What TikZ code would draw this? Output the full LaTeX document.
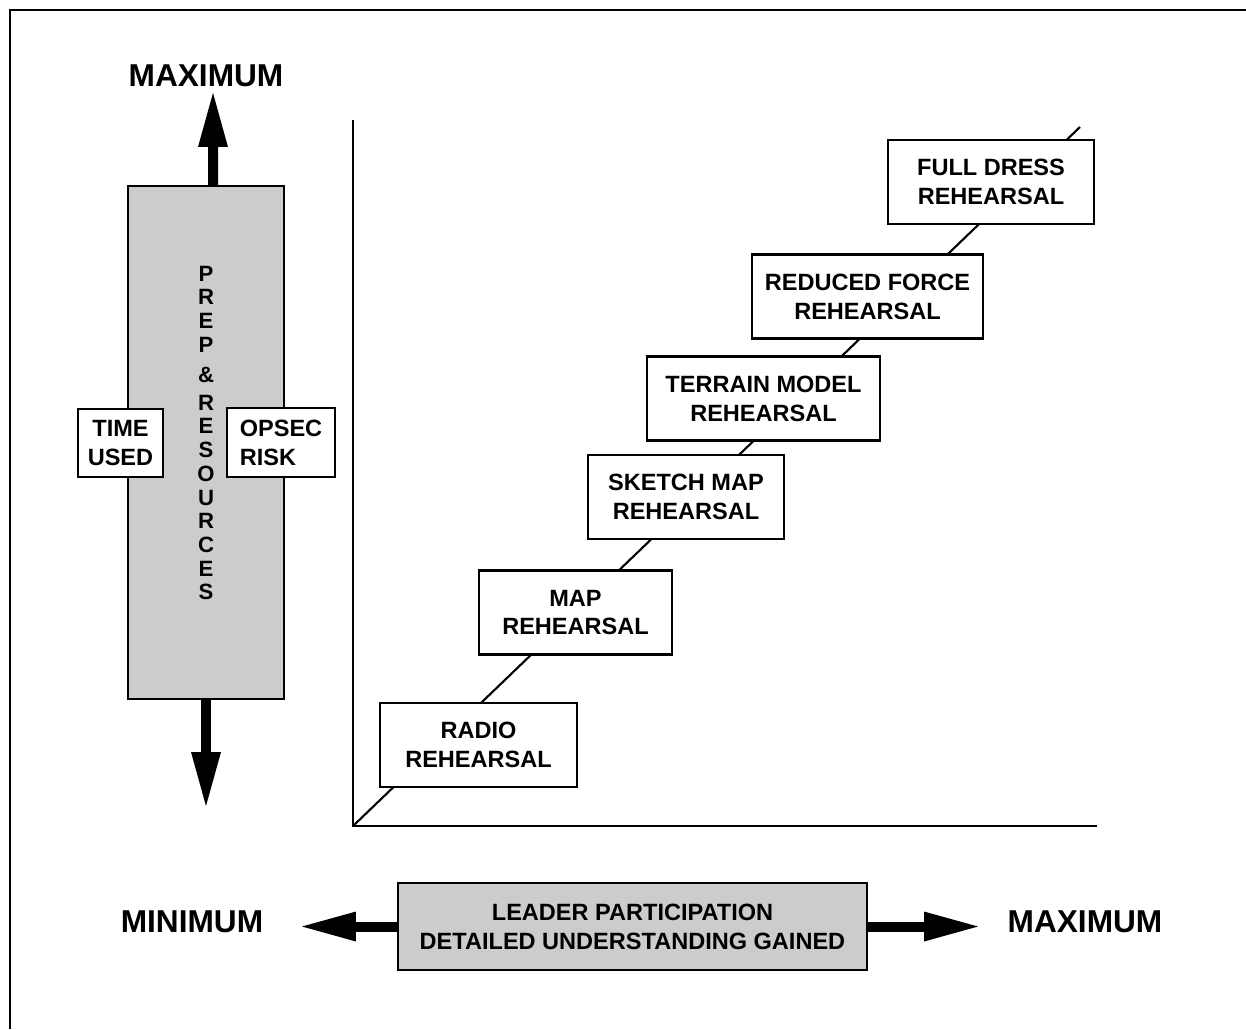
\documentclass[tikz,border=0pt]{standalone}
\usepackage{fontspec}
\setmainfont{Liberation Sans}
\usetikzlibrary{arrows.meta}

\begin{document}
\begin{tikzpicture}[x=0.02cm,y=-0.02cm,
every node/.style={align=center,font=\bfseries\fontsize{13.4}{16.4}\selectfont},
rehbox/.style={draw,fill=white,line width=1.3pt,minimum height=1.68cm,inner sep=0pt},
greybox/.style={draw,fill=black!20,line width=1.3pt,inner sep=0pt},
sidebox/.style={draw,fill=white,line width=1.3pt,inner sep=0pt},
bigtext/.style={font=\bfseries\fontsize{18}{21}\selectfont},
stacktext/.style={font=\bfseries\fontsize{12.6}{13.5}\selectfont},
bigarrow/.style={line width=0.2cm,-{Triangle[length=1.08cm,width=0.6cm,line width=0pt]}},
axis/.style={line width=1.2pt}]
\useasboundingbox (0,0) rectangle (1246,1029);
%================================================================
%	Frame
\draw[line width=1.5pt] (10,1029) -- (10,10) -- (1246,10);

%================================================================
%	Axes
\coordinate (ytop) at (353,120);
\coordinate (origin) at (353,826);
\coordinate (xend) at (1097,826);
\coordinate (diagend) at (1080,127);
\draw[axis] (ytop) -- (origin) -- (xend);
\draw[axis] (origin) -- (diagend);

%================================================================
%	Nodes
\node[rehbox, minimum width=3.94cm] (radio) at (478.5,745) {RADIO\\REHEARSAL};
\node[rehbox, minimum width=3.86cm] (map) at (575.5,612.5) {MAP\\REHEARSAL};
\node[rehbox, minimum width=3.92cm] (sketch) at (686,497) {SKETCH MAP\\REHEARSAL};
\node[rehbox, minimum width=4.66cm] (terrain) at (763.5,398.5) {TERRAIN MODEL\\REHEARSAL};
\node[rehbox, minimum width=4.62cm] (reduced) at (867.5,296.5) {REDUCED FORCE\\REHEARSAL};
\node[rehbox, minimum width=4.12cm] (fulldress) at (991,182) {FULL DRESS\\REHEARSAL};
%----------------------------------------------------------------
\node[greybox, minimum width=3.12cm, minimum height=10.26cm] (prep) at (206,442.5) {};
\node[stacktext] (preptext) at (206,433) {P\\R\\E\\P\\[4pt]\&\\[2pt]R\\E\\S\\O\\U\\R\\C\\E\\S};
\node[sidebox, minimum width=1.7cm, minimum height=1.36cm] (time) at (120.5,443) {TIME\\USED};
\node[sidebox, align=left, minimum width=2.16cm, minimum height=1.38cm] (opsec) at (281,442.5) {OPSEC\\RISK};
%----------------------------------------------------------------
\node[greybox, minimum width=9.38cm, minimum height=1.74cm] (leader) at (632.5,926.5)
  {LEADER PARTICIPATION\\DETAILED UNDERSTANDING GAINED};

%================================================================
%	Arrows
\coordinate (uptip) at (213,93);
\coordinate (downtip) at (206,806);
\coordinate (lefttip) at (302,926.5);
\coordinate (righttip) at (978,926.5);
\draw[bigarrow] ([xshift=0.14cm]prep.north) -- (uptip);
\draw[bigarrow] (prep.south) -- (downtip);
\draw[bigarrow] (leader.west) -- (lefttip);
\draw[bigarrow] (leader.east) -- (righttip);

%================================================================
%	Labels
\node[bigtext] (maxtop) at (206,76) {MAXIMUM};
\node[bigtext] (minleft) at (192,922) {MINIMUM};
\node[bigtext] (maxright) at (1085,922) {MAXIMUM};
%================================================================
\end{tikzpicture}
\end{document}
